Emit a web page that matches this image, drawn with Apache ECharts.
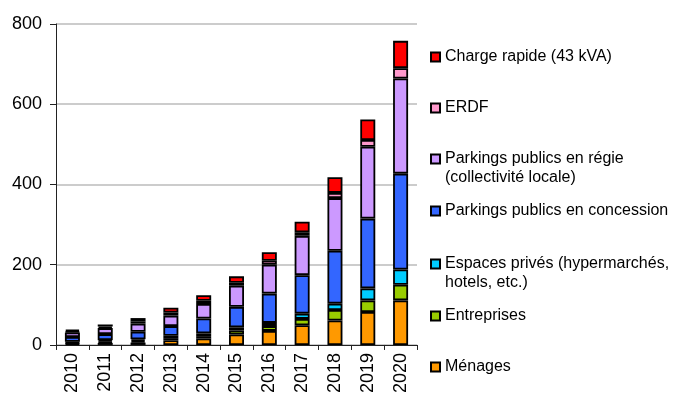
<!DOCTYPE html>
<html>
<head>
<meta charset="utf-8">
<script src="https://cdn.jsdelivr.net/npm/echarts@6/dist/echarts.min.js"></script>
<style>
html,body{margin:0;padding:0;background:#fff;}
#c{width:683px;height:396px;}
</style>
</head>
<body>
<div id="c"></div>
<script>
const years = ['2010','2011','2012','2013','2014','2015','2016','2017','2018','2019','2020'];
const menages     = [3, 5, 6, 12, 16, 26, 35, 49, 61, 82, 111];
const entreprises = [2, 3, 4, 5, 6, 10, 12, 16, 26, 29, 39];
const espaces     = [3, 4, 4, 6, 7, 8, 8, 13, 16, 30, 38];
const concession  = [12, 15, 19, 24, 37, 51, 73, 96, 132, 174, 239];
const regie       = [11, 15, 20, 26, 36, 53, 72, 98, 131, 179, 237];
const erdf        = [3, 4, 6, 8, 8, 7, 10, 9, 13, 17, 26];
const charge      = [4, 5, 8, 12, 14, 16, 21, 26, 39, 51, 68];
const yTicks = [0, 200, 400, 600, 800];

const names = {
  menages: 'Ménages',
  entreprises: 'Entreprises',
  espaces: 'Espaces privés (hypermarchés,\nhotels, etc.)',
  concession: 'Parkings publics en concession',
  regie: 'Parkings publics en régie\n(collectivité locale)',
  erdf: 'ERDF',
  charge: 'Charge rapide (43 kVA)'
};
const colors = {
  menages: '#FF9900', entreprises: '#99CC00', espaces: '#00CCFF',
  concession: '#3366FF', regie: '#CC99FF', erdf: '#FF99CC', charge: '#FF0000'
};
const seriesData = [
  ['menages', menages], ['entreprises', entreprises], ['espaces', espaces],
  ['concession', concession], ['regie', regie], ['erdf', erdf], ['charge', charge]
];

const FONT = 'Liberation Sans, Arial, sans-serif';
const LH = 19;
// legend marker centres (y) and number of lines
const legendPos = {
  charge: [57, 1], erdf: [108, 1], regie: [159, 2], concession: [211, 1],
  espaces: [264, 2], entreprises: [316, 1], menages: [367, 1]
};
const legends = Object.keys(legendPos).map(k => {
  const [yc, lines] = legendPos[k];
  const multi = lines > 1;
  return {
    data: [names[k]],
    orient: 'vertical',
    left: 430,
    top: multi ? yc - 1.5 * LH : yc - LH / 2,
    padding: 0,
    itemWidth: 9,
    itemHeight: 9,
    itemGap: 0,
    selectedMode: false,
    icon: 'rect',
    formatter: multi ? (n => '\n' + n) : undefined,
    textStyle: {
      fontFamily: FONT, fontSize: 16, color: '#000', lineHeight: LH
    }
  };
});

const chart = echarts.init(document.getElementById('c'), null, {renderer: 'canvas'});
chart.setOption({
  animation: false,
  backgroundColor: '#fff',
  grid: {left: 56, right: 266, top: 24, bottom: 51, containLabel: false},
  legend: legends,
  xAxis: {
    type: 'category',
    data: years,
    boundaryGap: true,
    axisLine: {lineStyle: {color: '#222', width: 1}},
    axisTick: {show: true, length: 5, lineStyle: {color: '#222'}},
    axisLabel: {rotate: 90, fontFamily: FONT, fontSize: 18, color: '#000', margin: 8, interval: 0}
  },
  yAxis: {
    type: 'value',
    min: yTicks[0], max: yTicks[yTicks.length - 1], interval: 200,
    axisLine: {show: true, lineStyle: {color: '#222', width: 1}},
    axisTick: {show: true, length: 6, lineStyle: {color: '#222'}},
    axisLabel: {fontFamily: FONT, fontSize: 18, color: '#000', margin: 14},
    splitLine: {show: true, lineStyle: {color: '#bbbbbb', width: 1.5}}
  },
  series: seriesData.map(([k, arr]) => ({
    name: names[k],
    type: 'bar',
    stack: 'total',
    data: arr,
    barWidth: 15,
    itemStyle: {color: colors[k], borderColor: '#000', borderWidth: 1.8}
  }))
});
</script>
</body>
</html>
